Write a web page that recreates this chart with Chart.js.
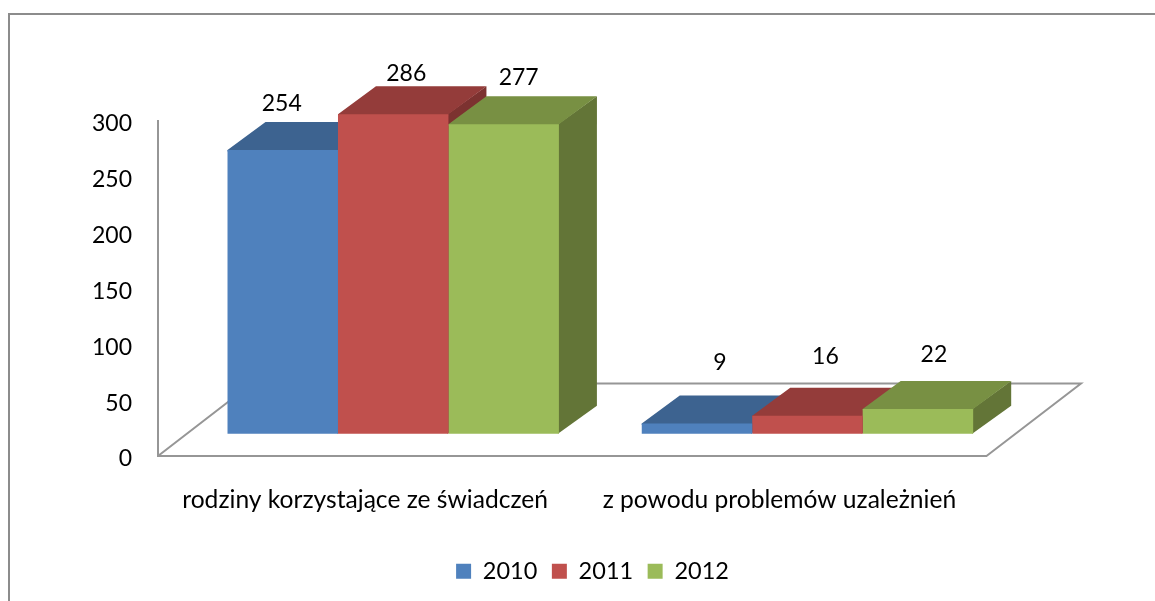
<!DOCTYPE html>
<html><head><meta charset="utf-8">
<style>html,body{margin:0;padding:0;background:#fff}#w{width:1155px;height:601px;position:relative}</style>
<script src="https://cdn.jsdelivr.net/npm/chart.js@4"></script></head>
<body><div id="w"><canvas id="c" width="1155" height="601"></canvas></div>
<script>
const categories = ['rodziny korzystające ze świadczeń', 'z powodu problemów uzależnień'];
const seriesNames = ['2010', '2011', '2012'];
const values2010 = [254, 9];
const values2011 = [286, 16];
const values2012 = [277, 22];
const yTicks = [0, 50, 100, 150, 200, 250, 300];

const frontColors = ['#4f81bd', '#c0504d', '#9bbb59'];
const topColors = ['#3d6390', '#943c3a', '#789043'];
const sideColors = ['#34547a', '#7c3230', '#637537'];
const gray = '#969696';
const FONT = 'Lato';
const depthX = 38, depthY = 28;
const labelNudge = [[[-1,-46.5],[23,-61]],[[13,-41],[18,-59]],[[15,-47],[16,-54.5]]];

function poly(ctx, pts, fill){
  ctx.beginPath();
  pts.forEach((p,i)=> i?ctx.lineTo(p[0],p[1]):ctx.moveTo(p[0],p[1]));
  ctx.closePath(); ctx.fillStyle=fill; ctx.fill();
}
const threeD = {
  id:'threeD',
  beforeDraw(chart){
    const ctx=chart.ctx; ctx.save();
    ctx.strokeStyle='#8c8c8c'; ctx.lineWidth=2;
    ctx.beginPath(); ctx.moveTo(9,610); ctx.lineTo(9,14); ctx.lineTo(1165,14); ctx.stroke();
    ctx.restore();
  },
  beforeDatasetsDraw(chart){
    const ctx=chart.ctx, a=chart.chartArea; ctx.save();
    ctx.strokeStyle=gray; ctx.lineWidth=2; ctx.lineJoin='miter';
    ctx.beginPath();
    ctx.moveTo(a.left,a.bottom); ctx.lineTo(a.left+94,a.bottom-72.5);
    ctx.lineTo(a.right+94.5,a.bottom-72.5); ctx.lineTo(a.right,a.bottom);
    ctx.stroke();
    chart.data.datasets.forEach((ds,d)=>{
      chart.getDatasetMeta(d).data.forEach(b=>{
        const l=b.x-b.width/2, r=b.x+b.width/2, t=b.y, f=b.base;
        poly(ctx,[[r-1,t],[r+depthX,t-depthY],[r+depthX,f-depthY],[r-1,f]],sideColors[d]);
        poly(ctx,[[l,t+1.5],[l,t],[l+depthX,t-depthY],[r+depthX,t-depthY],[r,t],[r,t+1.5]],topColors[d]);
      });
    });
    ctx.restore();
  },
  afterDatasetsDraw(chart){
    const ctx=chart.ctx; ctx.save();
    ctx.font='23px '+FONT; ctx.fillStyle='#000'; ctx.textAlign='center'; ctx.textBaseline='middle';
    chart.data.datasets.forEach((ds,d)=>{
      chart.getDatasetMeta(d).data.forEach((b,i)=>{
        const n=labelNudge[d][i];
        ctx.fillText(String(ds.data[i].y), b.x+n[0], b.y+n[1]);
      });
    });
    ctx.restore();
  }
};
const toPts = arr => arr.map((v,i)=>({x:i,y:v}));
new Chart(document.getElementById('c'),{
  type:'bar',
  data:{labels:categories,datasets:[values2010,values2011,values2012].map((v,d)=>({
    label:seriesNames[d],data:toPts(v),backgroundColor:frontColors[d],borderWidth:0,
    xAxisID:'xBars',yAxisID:'yBars',clip:false,categoryPercentage:0.8,barPercentage:1
  }))},
  options:{
    responsive:false,animation:false,
    layout:{padding:{left:30,top:121,right:0,bottom:8}},
    plugins:{tooltip:{enabled:false},
      legend:{position:'bottom',labels:{font:{family:FONT,size:23.5},color:'#000',boxWidth:15,boxHeight:15,padding:14.5}}},
    scales:{
      x:{type:'category',position:'bottom',offset:true,grid:{display:false,drawTicks:false},
        border:{color:gray,width:2},
        ticks:{font:{family:FONT,size:24.6},color:'#000',padding:29,maxRotation:0,autoSkip:false},
        afterFit(s){s.height=89;}},
      y:{type:'linear',position:'left',min:0,max:300,grid:{display:false,drawTicks:false},
        border:{color:gray,width:2},
        afterBuildTicks(s){s.ticks=yTicks.map(v=>({value:v}));},
        ticks:{font:{family:FONT,size:23},color:'#000',padding:26},
        afterFit(s){s.width=128;},
        afterUpdate(s){
          const f=s._computeLabelItems.bind(s);
          s._computeLabelItems=a=>{const items=f(a);items.forEach(i=>{i.textOffset+=1.5;});return items;};
        }},
      yRight:{type:'linear',position:'right',min:0,max:300,display:true,
        grid:{display:false,drawTicks:false},border:{display:false},ticks:{display:false},
        afterFit(s){s.width=168.5;}},
      xBars:{type:'linear',axis:'x',display:false,min:-0.5678,max:1.4322,offset:false,
        afterBuildTicks(s){s.ticks=[{value:0},{value:1}];}},
      yBars:{type:'linear',axis:'y',display:false,min:-20,max:280}
    }
  },
  plugins:[threeD]
});
</script></body></html>
